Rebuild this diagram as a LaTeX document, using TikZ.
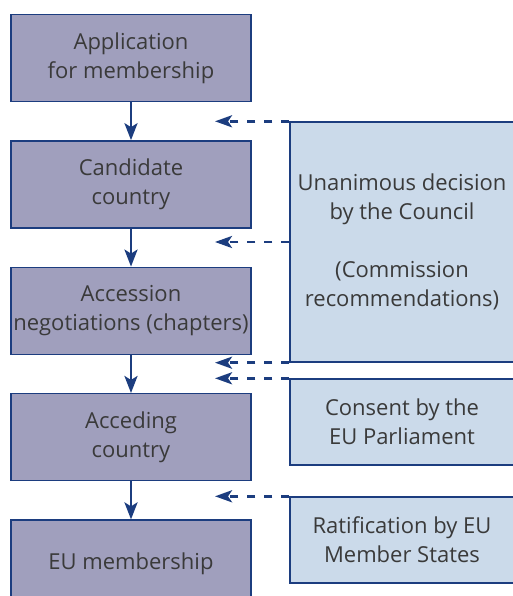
\documentclass[tikz,border=0pt]{standalone}
\usepackage{fontspec}
\setmainfont{Open Sans}
\usepackage{tikz}
\usetikzlibrary{positioning, arrows.meta}
\definecolor{stepfill}{HTML}{A09FBD}
\definecolor{notefill}{HTML}{CBDAEA}
\definecolor{euline}{HTML}{1C3D7F}
\definecolor{eutext}{HTML}{3A3A3A}
\tikzstyle{flow} = [line width=2.8pt, draw=euline, -{Stealth[length=17pt, width=13pt, inset=4pt]}]
\tikzstyle{feed} = [line width=2.8pt, draw=euline, dash pattern=on 8pt off 9pt, -{Stealth[length=17pt, width=12pt, inset=4pt]}]

\begin{document}
\begin{tikzpicture}[
		x=1pt, y=-1pt,
		stage/.style={
			draw=euline,
			fill=stepfill,
			line width=1.4pt,
			rectangle,
			inner xsep=0pt,
			minimum width=240pt,
			minimum height=87pt,
			align=center,
			text=eutext,
			font=\fontsize{22}{29}\selectfont},
		decision/.style={
			draw=euline,
			fill=notefill,
			line width=1.4pt,
			rectangle,
			inner xsep=0pt,
			minimum width=224pt,
			minimum height=86pt,
			align=center,
			text=eutext,
			font=\fontsize{22}{29}\selectfont}]
		\useasboundingbox (0,0) rectangle (512,596);
		\node (app) [stage] at (131,58) {Application\\for membership};
		\node (cand) [below=38pt of app, stage] {Candidate\\country};
		\node (nego) [below=38pt of cand, stage] {Accession\\negotiations (chapters)};
		\node (acced) [below=38pt of nego, stage] {Acceding\\country};
		\node (member) [below=38pt of acced, stage] {EU membership};

		\node (council) [decision, minimum height=240pt] at (402,242) {Unanimous decision\\by the Council\\[29pt](Commission\\recommendations)};
		\node (consent) [decision] at (402,422) {Consent by the\\EU Parliament};
		\node (ratif) [decision] at (402,540) {Ratification by EU\\Member States};

		\coordinate (tips) at (215,0);

		\draw [flow] (app) -- (cand);
		\draw [flow] (cand) -- (nego);
		\draw [flow] (nego) -- (acced);
		\draw [flow] (acced) -- (member);

		\draw [feed] (council.north west) -- (council.north west -| tips);
		\draw [feed] (council.west) -- (council.west -| tips);
		\draw [feed] (council.south west) -- (council.south west -| tips);
		\draw [feed] (consent.north west) -- (consent.north west -| tips);
		\draw [feed] (ratif.north west) -- (ratif.north west -| tips);

	\end{tikzpicture}
\end{document}
